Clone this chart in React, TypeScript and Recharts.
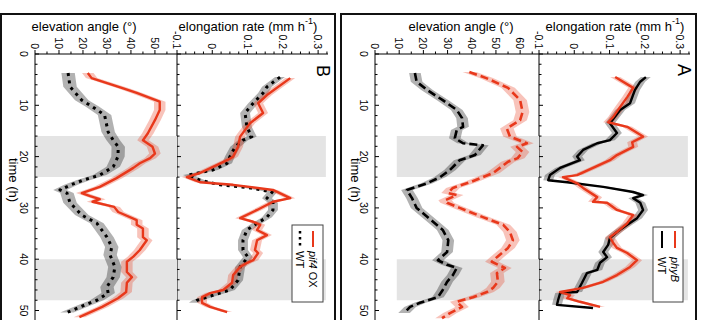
import React from 'react';
import { ComposedChart, Line, Area, XAxis, YAxis, ReferenceArea } from 'recharts';

type Pt = [number, number];

// ---- data: [time (h), value] ----
// Panel A, elongation rate (mm h-1)
const rateWT_A: Pt[] = [
  [4.5, 0.203], [5.4, 0.187], [7.0, 0.172], [9.6, 0.158], [10.9, 0.13], [13.5, 0.101], [15.4, 0.121],
  [16.8, 0.101], [17.4, 0.065], [18.7, 0.025], [20.0, 0.008], [20.7, 0.016], [22.2, -0.04], [23.6, -0.069],
  [24.6, -0.074], [25.0, -0.02], [25.9, 0.082], [26.9, 0.167], [27.5, 0.195], [28.1, 0.167], [29.0, 0.187],
  [30.4, 0.195], [32.0, 0.178], [33.3, 0.15], [34.7, 0.121], [35.9, 0.101], [37.2, 0.096], [38.6, 0.082],
  [39.6, 0.093], [40.7, 0.073], [42.1, 0.065], [42.7, 0.036], [44.6, 0.022], [46.4, 0.008], [46.6, -0.04],
  [48.0, -0.046], [48.9, -0.049], [49.5, 0.053],
];
const ratePhyB: Pt[] = [
  [4.5, 0.116], [6.6, 0.167], [8.4, 0.15], [10.3, 0.13], [12.3, 0.11], [13.3, 0.096], [14.2, 0.15],
  [16.1, 0.195], [17.2, 0.164], [18.1, 0.167], [19.7, 0.121], [20.7, 0.101], [22.2, 0.053], [23.6, 0.008],
  [24.0, -0.032], [25.2, 0.008], [26.1, 0.025], [27.9, 0.065], [28.8, 0.053], [29.0, 0.093], [30.4, 0.121],
  [31.4, 0.167], [33.0, 0.15], [34.7, 0.121], [35.7, 0.101], [36.8, 0.11], [37.8, 0.121], [38.8, 0.15],
  [40.2, 0.178], [41.5, 0.158], [43.1, 0.121], [44.4, 0.082], [45.6, 0.025], [46.4, -0.04], [47.0, -0.012],
  [47.6, -0.02], [48.3, 0.016], [49.3, 0.073],
];
// Panel A, elevation angle (deg)
const angleWT_A: Pt[] = [
  [3.7, 16.5], [5.4, 17.2], [7.0, 21.5], [9.0, 28], [10.9, 33.8], [12.5, 36], [14.2, 36.4], [14.8, 33.8],
  [16.4, 33], [17.4, 36.4], [17.8, 44.6], [19.7, 41.3], [20.7, 35], [22.6, 31], [24.0, 26.9], [25.2, 21.5],
  [26.5, 13.2], [28.1, 15.3], [30.0, 17.2], [32.7, 24], [34.3, 28], [36.3, 30.3], [38.6, 29.8], [40.2, 26],
  [41.1, 29.8], [41.7, 33.8], [43.1, 32.2], [44.4, 29.8], [46.0, 28], [47.4, 26], [48.5, 18.6], [49.3, 14.5],
  [50.5, 12],
];
const anglePhyB: Pt[] = [
  [3.5, 39], [4.7, 46], [6.6, 55], [9.0, 60], [11.3, 61], [12.9, 60], [14.5, 54.5], [16.1, 55.8],
  [17.4, 62.8], [18.1, 58.7], [19.1, 61], [20.3, 59], [21.0, 55], [23.2, 48.8], [25.0, 39.3], [26.1, 32.2],
  [27.1, 30.2], [27.5, 33.8], [28.5, 29], [29.0, 29.8], [30.0, 35], [31.8, 44.6], [33.3, 53], [34.7, 55.8],
  [36.3, 57], [37.8, 55], [39.6, 50.4], [40.5, 48.3], [41.7, 53.7], [42.7, 50.4], [44.4, 50.8], [45.6, 48.8],
  [46.4, 46.3], [47.4, 40.5], [48.3, 33.8], [49.3, 36], [50.5, 31], [51.5, 27.7],
];
// Panel B, elongation rate (mm h-1)
const rateWT_B: Pt[] = [
  [4.5, 0.192], [6.4, 0.155], [7.6, 0.144], [9.6, 0.116], [11.5, 0.093], [14.2, 0.098], [16.1, 0.112],
  [16.8, 0.087], [18.1, 0.065], [20.0, 0.05], [21.3, 0.042], [22.6, 0.002], [23.6, -0.069], [24.6, -0.035],
  [25.5, 0.022], [26.1, 0.107], [26.9, 0.17], [28.1, 0.155], [29.0, 0.172], [30.4, 0.172], [31.8, 0.155],
  [33.0, 0.127], [34.3, 0.098], [36.3, 0.087], [38.2, 0.087], [39.6, 0.101], [41.5, 0.079], [44.1, 0.073],
  [46.0, 0.05], [47.4, -0.015], [48.0, -0.043], [48.5, -0.052],
];
const ratePif4: Pt[] = [
  [4.7, 0.221], [8.0, 0.155], [9.6, 0.13], [11.5, 0.144], [13.5, 0.107], [16.1, 0.079], [18.1, 0.073],
  [20.0, 0.059], [20.7, 0.042], [22.0, 0.002], [23.2, -0.035], [24.0, -0.072], [25.0, -0.035], [25.5, 0.059],
  [26.5, 0.172], [28.1, 0.221], [28.8, 0.172], [30.4, 0.127], [32.0, 0.079], [32.7, 0.116], [33.3, 0.136],
  [34.3, 0.127], [35.3, 0.155], [36.3, 0.127], [38.2, 0.121], [38.8, 0.13], [40.2, 0.116], [40.7, 0.099],
  [41.5, 0.079], [43.1, 0.059], [44.6, 0.056], [46.0, 0.031], [46.6, -0.006], [47.4, -0.029], [48.5, -0.029],
  [49.3, -0.006], [50.3, 0.042],
];
// Panel B, elevation angle (deg)
const angleWT_B: Pt[] = [
  [3.7, 13.8], [6.4, 14.6], [9.0, 19.5], [10.3, 24], [11.9, 29], [15.2, 30.5], [16.8, 32.6], [18.1, 34.7],
  [20.0, 34.6], [21.3, 33.3], [22.0, 32.6], [23.6, 27], [24.6, 20], [25.5, 15], [26.5, 10.4], [27.1, 13.3],
  [29.0, 14.6], [31.4, 19.5], [33.0, 25.8], [35.7, 30], [37.6, 32], [39.2, 31.3], [41.5, 33.3], [43.5, 32.6],
  [45.4, 30], [46.6, 30.5], [48.0, 25.8], [49.3, 18.8], [50.4, 13.3],
];
const anglePif4: Pt[] = [
  [3.7, 22], [4.7, 23.6], [6.7, 36.8], [7.6, 42.4], [9.3, 52], [10.9, 52], [12.9, 50], [15.5, 47],
  [16.8, 45], [18.1, 49], [19.4, 50], [20.3, 48], [21.3, 43.7], [22.2, 41], [24.2, 34], [25.9, 27],
  [27.1, 19.5], [27.7, 23], [28.3, 27], [28.8, 24], [29.8, 33], [30.8, 34.7], [32.4, 42.4], [33.3, 42.4],
  [34.0, 45], [35.7, 45], [36.3, 46.6], [38.2, 43.7], [39.5, 41], [40.5, 38.3], [42.5, 38.3], [43.5, 40.4],
  [44.6, 38.3], [46.4, 38], [47.6, 34.6], [49.3, 28], [51.3, 18.5],
];

// standard errors (half-width of shaded bands)
const errAngleWT_A = 2.4;
const errAnglePhyB = 2.8;
const errAngleWT_B = 2.8;
const errAnglePif4 = 2.4;
const errRate = 0.014;

// dark periods (h)
const nights: [number, number][] = [[16, 24], [40, 48]];

// axis ticks
const timeTicks = [0, 2, 4, 6, 8, 10, 12, 14, 16, 18, 20, 22, 24, 26, 28, 30, 32, 34, 36, 38, 40, 42, 44, 46, 48, 50, 52, 54];
const timeLabels = [0, 10, 20, 30, 40, 50];
const rateTicks = [-0.1, -0.075, -0.05, -0.025, 0, 0.025, 0.05, 0.075, 0.1, 0.125, 0.15, 0.175, 0.2, 0.225, 0.25, 0.275, 0.3, 0.325];
const rateLabelValues = [-0.1, 0, 0.1, 0.2, 0.3];
const rateLabelText = ['-0.1', '0', '0.1', '0.2', '0.3'];
const angleTicksA = [0, 5, 10, 15, 20, 25, 30, 35, 40, 45, 50, 55, 60, 65];
const angleTicksB = [0, 5, 10, 15, 20, 25, 30, 35, 40, 45, 50, 55];
const angleLabels = [0, 10, 20, 30, 40, 50, 60];

// ---- layout (unrotated figure; the whole figure is turned 90deg clockwise) ----
const FIG_W = 340;
const FIG_H = 702;
const LEFT = 54;
const T_END = 55.75;
const FONT = "'Liberation Sans', Arial, Helvetica, sans-serif";
const RED = '#e8381b';
const BLACK = '#000000';

type Row = { t: number; v: number; band: [number, number] };
const toRows = (pts: Pt[], err: number): Row[] => pts.map(([t, v]) => ({ t, v, band: [v - err, v + err] }));

type Series = {
  name: string;
  rows: Row[];
  color: string;
  bandFill: string;
  bandOpacity: number;
  dash?: string;
  width: number;
};

const TimeTick = (props: any) => {
  const { x, y, payload, showLabel } = props;
  const v = payload.value as number;
  const major = timeLabels.includes(v);
  return (
    <g>
      <line x1={x} x2={x} y1={y} y2={y - (major ? 4 : 2.5)} stroke="#000" strokeWidth={1} />
      {showLabel && major && (
        <text x={x} y={y + 15} textAnchor="middle" fontSize={10.5} fontFamily={FONT} fill="#000">
          {v}
        </text>
      )}
    </g>
  );
};

const ValueTick = (props: any) => {
  const { x, y, payload, fmt } = props;
  const label: string | null = fmt(payload.value);
  return (
    <g>
      <line x1={x - (label !== null ? 4 : 2.5)} x2={x} y1={y} y2={y} stroke="#000" strokeWidth={1} />
      {label !== null && (
        <text x={x - 5} y={y} textAnchor="end" dominantBaseline="central" fontSize={10.5} fontFamily={FONT} fill="#000">
          {label}
        </text>
      )}
    </g>
  );
};

const fmtRate = (v: number): string | null => {
  const i = rateLabelValues.findIndex((r) => Math.abs(r - v) < 1e-6);
  return i >= 0 ? rateLabelText[i] : null;
};
const fmtAngle = (v: number): string | null => (angleLabels.includes(v) ? String(v) : null);

type PanelProps = {
  top: number;
  bottom: number;
  domain: [number, number];
  ticks: number[];
  fmt: (v: number) => string | null;
  showTimeLabels: boolean;
  nightFrom: number;
  nightTo: number;
  series: Series[];
};

function Subplot({ top, bottom, domain, ticks, fmt, showTimeLabels, nightFrom, nightTo, series }: PanelProps) {
  return (
    <div style={{ position: 'absolute', left: 0, top: 0 }}>
      <ComposedChart width={FIG_W} height={FIG_H} margin={{ top, right: 0, bottom: FIG_H - bottom - 1, left: LEFT - 1 }}>
        <XAxis
          type="number"
          dataKey="t"
          scale="linear"
          domain={[0, T_END]}
          allowDataOverflow
          ticks={timeTicks}
          interval={0}
          height={1}
          tickSize={0}
          tickMargin={0}
          tickLine={false}
          axisLine={{ stroke: '#000', strokeWidth: 1 }}
          tick={(p: any) => <TimeTick {...p} showLabel={showTimeLabels} />}
        />
        <YAxis
          type="number"
          scale="linear"
          domain={domain}
          allowDataOverflow
          ticks={ticks}
          interval={0}
          width={1}
          tickSize={0}
          tickMargin={0}
          tickLine={false}
          axisLine={{ stroke: '#000', strokeWidth: 1 }}
          tick={(p: any) => <ValueTick {...p} fmt={fmt} />}
        />
        {nights.map(([a, b]) => (
          <ReferenceArea key={a} x1={a} x2={b} y1={nightFrom} y2={nightTo} fill="#e4e4e4" fillOpacity={1} stroke="none" />
        ))}
        {series.map((s) => (
          <Area
            key={s.name + '-band'}
            data={s.rows}
            dataKey="band"
            type="linear"
            stroke="none"
            fill={s.bandFill}
            fillOpacity={s.bandOpacity}
            isAnimationActive={false}
            activeDot={false}
          />
        ))}
        {series.map((s) => (
          <Line
            key={s.name}
            data={s.rows}
            dataKey="v"
            type="linear"
            stroke={s.color}
            strokeWidth={s.width}
            strokeDasharray={s.dash}
            strokeLinejoin="round"
            dot={false}
            activeDot={false}
            isAnimationActive={false}
          />
        ))}
      </ComposedChart>
    </div>
  );
}

const grayBand = { bandFill: '#000000', bandOpacity: 0.3 };
const pinkBand = { bandFill: RED, bandOpacity: 0.3 };

const seriesRateA: Series[] = [
  { name: 'WT', rows: toRows(rateWT_A, errRate), color: BLACK, width: 2.4, ...grayBand },
  { name: 'phyB', rows: toRows(ratePhyB, errRate), color: RED, width: 2.4, ...pinkBand },
];
const seriesAngleA: Series[] = [
  { name: 'WT', rows: toRows(angleWT_A, errAngleWT_A), color: BLACK, width: 2.6, dash: '8 4', ...grayBand },
  { name: 'phyB', rows: toRows(anglePhyB, errAnglePhyB), color: RED, width: 2.6, dash: '8 4', ...pinkBand },
];
const seriesRateB: Series[] = [
  { name: 'WT', rows: toRows(rateWT_B, errRate), color: BLACK, width: 3, dash: '3 4.5', ...grayBand },
  { name: 'pif4 OX', rows: toRows(ratePif4, errRate), color: RED, width: 2.4, ...pinkBand },
];
const seriesAngleB: Series[] = [
  { name: 'WT', rows: toRows(angleWT_B, errAngleWT_B), color: BLACK, width: 3, dash: '3 4.5', ...grayBand },
  { name: 'pif4 OX', rows: toRows(anglePif4, errAnglePif4), color: RED, width: 2.4, ...pinkBand },
];

const txt = { fontFamily: FONT, fill: '#000' };

function Annotations() {
  return (
    <svg width={FIG_W} height={FIG_H} style={{ position: 'absolute', left: 0, top: 0, overflow: 'visible' }}>
      {/* panel frames */}
      <rect x={14} y={6} width={400} height={355} fill="none" stroke="#111" strokeWidth={2} />
      <rect x={14} y={367} width={400} height={334} fill="none" stroke="#111" strokeWidth={2} />

      {/* axis titles */}
      <text x={26} y={87} transform="rotate(-90 26 87)" textAnchor="middle" dominantBaseline="central" fontSize={13} {...txt}>
        elongation rate (mm h<tspan dy={-5} fontSize={9}>-1</tspan><tspan dy={5}>)</tspan>
      </text>
      <text x={26} y={241} transform="rotate(-90 26 241)" textAnchor="middle" dominantBaseline="central" fontSize={13} {...txt}>
        elevation angle (°)
      </text>
      <text x={26} y={454} transform="rotate(-90 26 454)" textAnchor="middle" dominantBaseline="central" fontSize={13} {...txt}>
        elongation rate (mm h<tspan dy={-5} fontSize={9}>-1</tspan><tspan dy={5}>)</tspan>
      </text>
      <text x={26} y={618} transform="rotate(-90 26 618)" textAnchor="middle" dominantBaseline="central" fontSize={13} {...txt}>
        elevation angle (°)
      </text>
      <text x={180} y={347} textAnchor="middle" dominantBaseline="central" fontSize={13} {...txt}>time (h)</text>
      <text x={180} y={689} textAnchor="middle" dominantBaseline="central" fontSize={13} {...txt}>time (h)</text>

      {/* panel letters */}
      <text x={70} y={18} textAnchor="middle" dominantBaseline="central" fontSize={18} {...txt}>A</text>
      <text x={71} y={379} textAnchor="middle" dominantBaseline="central" fontSize={18} {...txt}>B</text>

      {/* legend A */}
      <rect x={227} y={19} width={75} height={30} fill="#fff" stroke="#444" strokeWidth={1} />
      <line x1={231} x2={248} y1={27} y2={27} stroke={RED} strokeWidth={2} />
      <line x1={231} x2={248} y1={40} y2={40} stroke={BLACK} strokeWidth={2} />
      <text x={257} y={27} dominantBaseline="central" fontSize={11} fontStyle="italic" {...txt}>phyB</text>
      <text x={257} y={40} dominantBaseline="central" fontSize={11} {...txt}>WT</text>

      {/* legend B */}
      <rect x={225} y={379} width={77} height={31} fill="#fff" stroke="#444" strokeWidth={1} />
      <line x1={231} x2={247} y1={389} y2={389} stroke={RED} strokeWidth={2} />
      <line x1={231} x2={249} y1={402} y2={402} stroke={BLACK} strokeWidth={2.5} strokeDasharray="2.5 3.5" />
      <text x={251} y={389} dominantBaseline="central" fontSize={11} {...txt}>
        <tspan fontStyle="italic">pif4</tspan> OX
      </text>
      <text x={251} y={402} dominantBaseline="central" fontSize={11} {...txt}>WT</text>
    </svg>
  );
}

export default function App() {
  return (
    <div style={{ position: 'absolute', left: 0, top: 0, width: 702, height: 320, overflow: 'hidden', background: '#fff' }}>
      <div
        style={{
          position: 'absolute',
          left: 0,
          top: 0,
          width: FIG_W,
          height: FIG_H,
          transformOrigin: '0 0',
          transform: 'translateX(702px) rotate(90deg)',
          fontFamily: FONT,
        }}
      >
        {/* panel A: elongation (top), elevation (bottom) */}
        <Subplot top={12} bottom={163} domain={[-0.1, 0.328]} ticks={rateTicks} fmt={fmtRate} showTimeLabels={false}
          nightFrom={-0.1} nightTo={0.322} series={seriesRateA} />
        <Subplot top={163} bottom={327} domain={[0, 67.8]} ticks={angleTicksA} fmt={fmtAngle} showTimeLabels
          nightFrom={9} nightTo={67.8} series={seriesAngleA} />
        {/* panel B */}
        <Subplot top={374} bottom={525} domain={[-0.1, 0.328]} ticks={rateTicks} fmt={fmtRate} showTimeLabels={false}
          nightFrom={-0.1} nightTo={0.322} series={seriesRateB} />
        <Subplot top={525} bottom={667} domain={[0, 59.2]} ticks={angleTicksB} fmt={fmtAngle} showTimeLabels
          nightFrom={0} nightTo={59.2} series={seriesAngleB} />
        <Annotations />
      </div>
    </div>
  );
}
